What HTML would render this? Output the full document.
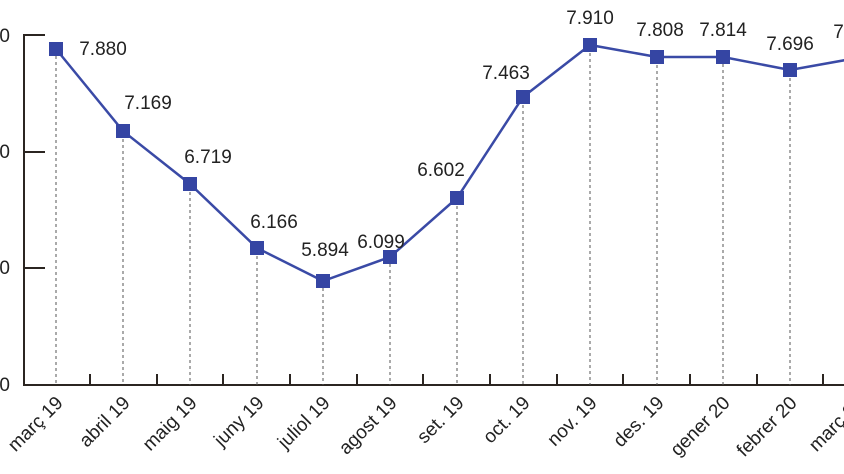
<!DOCTYPE html>
<html><head><meta charset="utf-8"><style>html,body{margin:0;padding:0;background:#fff}svg{display:block}</style></head><body>
<svg width="844" height="474" viewBox="0 0 844 474" xmlns="http://www.w3.org/2000/svg" font-family="Liberation Sans, sans-serif">
<g stroke="#2b2521" stroke-width="2" fill="none">
<path d="M45 35H24V385H870"/>
<path d="M24 152H45M24 268H45"/>
<path d="M90 385v-11M157 385v-11M223 385v-11M290 385v-11M357 385v-11M423 385v-11M490 385v-11M557 385v-11M623 385v-11M690 385v-11M757 385v-11M823 385v-11"/>
</g>
<g font-size="19" fill="#222" text-anchor="end">
<text x="10" y="42">0</text><text x="10" y="158">0</text><text x="10" y="274">0</text><text x="10" y="391">0</text>
</g>
<g stroke="#555" stroke-width="1" stroke-dasharray="3 3">
<path d="M56 56V385M123 139V385M190 192V385M257 256V385M323 288V385M390 264V385M457 206V385M523 105V385M590 53V385M657 65V385M723 64V385M790 78V385"/>
</g>
<polyline fill="none" stroke="#3a4aa6" stroke-width="2.5" points="56,49 123,131 190,184 257,248 323,281 390,257 457,198 523,97 590,45 657,57 723,57 790,70 857,58"/>
<g fill="#3545a3">
<rect x="49" y="42" width="14" height="14"/><rect x="116" y="124" width="14" height="14"/><rect x="183" y="177" width="14" height="14"/><rect x="250" y="241" width="14" height="14"/><rect x="316" y="274" width="14" height="14"/><rect x="383" y="250" width="14" height="14"/><rect x="450" y="191" width="14" height="14"/><rect x="516" y="90" width="14" height="14"/><rect x="583" y="38" width="14" height="14"/><rect x="650" y="50" width="14" height="14"/><rect x="716" y="50" width="14" height="14"/><rect x="783" y="63" width="14" height="14"/><rect x="850" y="51" width="14" height="14"/>
</g>
<g font-size="19" fill="#222" text-anchor="middle">
<text x="103" y="55">7.880</text><text x="148" y="109">7.169</text><text x="208" y="163">6.719</text><text x="274" y="228">6.166</text><text x="325" y="256">5.894</text><text x="381" y="248">6.099</text><text x="441" y="176">6.602</text><text x="506" y="79">7.463</text><text x="590" y="24">7.910</text><text x="660" y="36">7.808</text><text x="723" y="36">7.814</text><text x="790" y="50">7.696</text><text x="857" y="38">7.808</text>
</g>
<g font-size="19" fill="#222" text-anchor="end">
<text transform="translate(64,404) rotate(-45)">març 19</text>
<text transform="translate(131,404) rotate(-45)">abril 19</text>
<text transform="translate(198,404) rotate(-45)">maig 19</text>
<text transform="translate(265,404) rotate(-45)">juny 19</text>
<text transform="translate(331,404) rotate(-45)">juliol 19</text>
<text transform="translate(398,404) rotate(-45)">agost 19</text>
<text transform="translate(465,404) rotate(-45)">set. 19</text>
<text transform="translate(531,404) rotate(-45)">oct. 19</text>
<text transform="translate(598,404) rotate(-45)">nov. 19</text>
<text transform="translate(665,404) rotate(-45)">des. 19</text>
<text transform="translate(731,404) rotate(-45)">gener 20</text>
<text transform="translate(798,404) rotate(-45)">febrer 20</text>
<text transform="translate(865,404) rotate(-45)">març 20</text>
</g>
</svg>
</body></html>
